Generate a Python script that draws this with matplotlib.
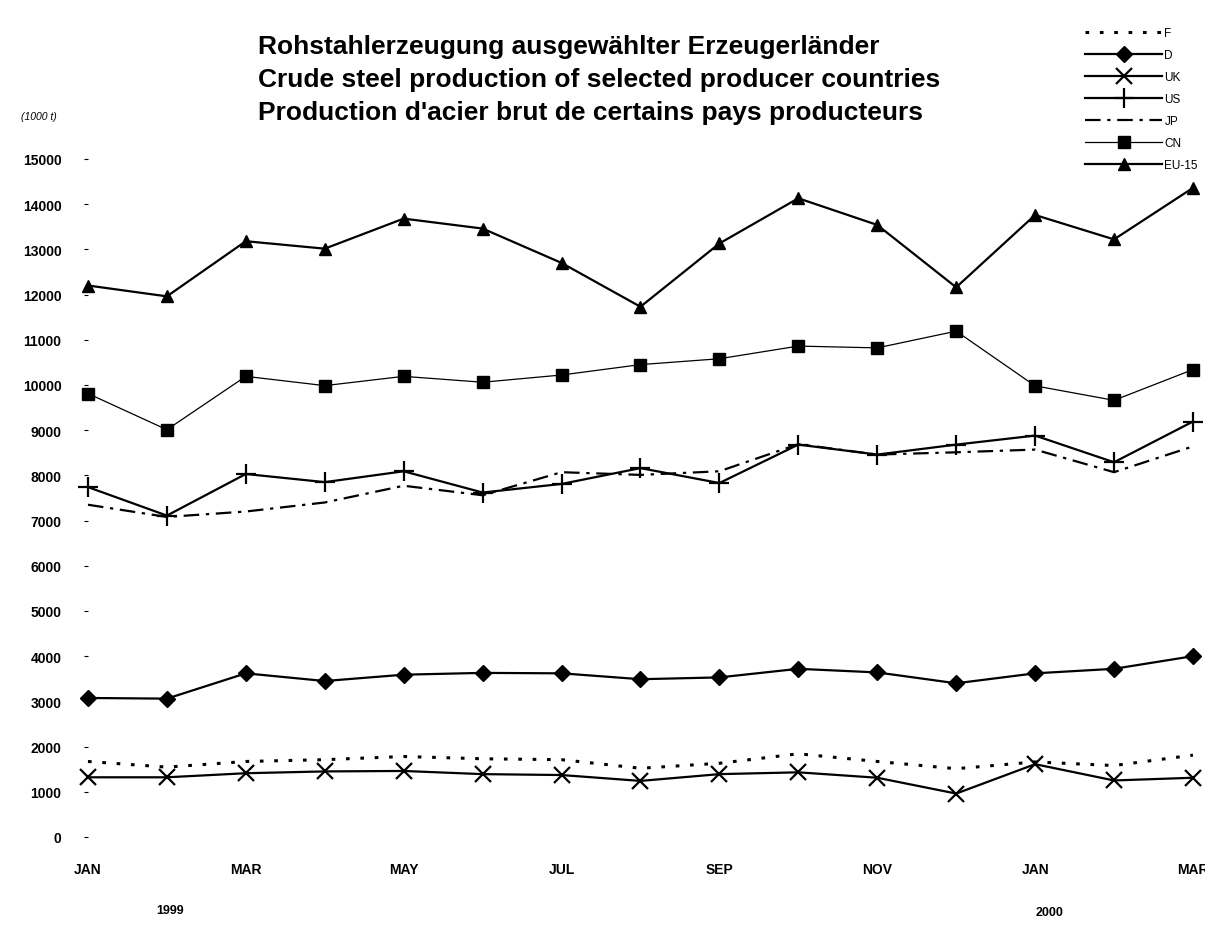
import numpy as np
import matplotlib
matplotlib.use('Agg')
import matplotlib.pyplot as plt

plt.rcParams['font.family'] = ['Liberation Sans Narrow', 'Liberation Sans', 'DejaVu Sans']

## dati (1000 t), gen 1999 - mar 2000
mesi = ['JAN', 'FEB', 'MAR', 'APR', 'MAY', 'JUN', 'JUL', 'AUG', 'SEP', 'OCT', 'NOV', 'DEC', 'JAN', 'FEB', 'MAR']
F  = [1670, 1545, 1670, 1710, 1780, 1730, 1710, 1520, 1630, 1840, 1670, 1510, 1660, 1580, 1810]
D  = [3075, 3060, 3620, 3450, 3590, 3630, 3620, 3490, 3530, 3720, 3640, 3400, 3620, 3720, 4000]
UK = [1320, 1320, 1410, 1450, 1460, 1390, 1370, 1240, 1390, 1430, 1310, 960, 1610, 1250, 1310]
US = [7740, 7110, 8030, 7850, 8090, 7620, 7810, 8160, 7830, 8680, 8460, 8680, 8880, 8290, 9190]
JP = [7350, 7080, 7200, 7400, 7770, 7560, 8070, 8010, 8090, 8690, 8460, 8510, 8570, 8070, 8640]
CN = [9810, 9010, 10190, 9985, 10190, 10060, 10220, 10450, 10580, 10860, 10820, 11190, 9980, 9660, 10340]
EU = [12200, 11960, 13180, 13015, 13680, 13460, 12700, 11730, 13130, 14130, 13540, 12160, 13760, 13220, 14360]

x = np.arange(len(mesi))

fig = plt.figure(figsize=(12.05, 9.37), dpi=100)
ax = fig.add_axes([0.073, 0.1057, 0.917, 0.7236])

kw = dict(color='black', clip_on=False)
ax.plot(x, F, linestyle=(0, (1.2, 3.5)), linewidth=2.2, label='F', **kw)
ax.plot(x, D, marker='D', markersize=8, linewidth=1.6, label='D', **kw)
ax.plot(x, UK, marker='x', markersize=12, markeredgewidth=1.6, linewidth=1.6, label='UK', **kw)
ax.plot(x, US, marker='+', markersize=15, markeredgewidth=1.6, linewidth=1.6, label='US', **kw)
ax.plot(x, JP, linestyle=(0, (7, 3, 1.5, 3)), linewidth=1.6, label='JP', **kw)
ax.plot(x, CN, marker='s', markersize=8, linewidth=0.9, label='CN', **kw)
ax.plot(x, EU, marker='^', markersize=8, linewidth=1.6, label='EU-15', **kw)

ax.set_xlim(0, 14)
ax.set_ylim(0, 15000)
ax.set_yticks(np.arange(0, 15001, 1000))
ax.set_yticklabels([str(v) for v in range(0, 15001, 1000)], fontweight='bold', fontsize=10)
ax.set_xticks(x[::2])
ax.set_xticklabels(mesi[::2], fontweight='bold', fontsize=10)
ax.tick_params(axis='y', length=3, width=0.8, pad=16)
ax.tick_params(axis='x', length=0, pad=18)
for s in ax.spines.values():
    s.set_visible(False)

# titolo
tx = 0.214
fig.text(tx, 0.950, 'Rohstahlerzeugung ausgewählter Erzeugerländer', ha='left', va='center',
         fontsize=19, fontweight='bold')
fig.text(tx, 0.915, 'Crude steel production of selected producer countries', ha='left', va='center',
         fontsize=19, fontweight='bold')
fig.text(tx, 0.879, "Production d'acier brut de certains pays producteurs", ha='left', va='center',
         fontsize=19, fontweight='bold')
fig.text(0.032, 0.875, '(1000 t)', ha='center', va='center', fontsize=7.5, style='italic')

# anni
fig.text(0.141, 0.028, '1999', ha='center', va='center', fontsize=9, fontweight='bold')
fig.text(0.871, 0.026, '2000', ha='center', va='center', fontsize=9, fontweight='bold')

leg = fig.legend(loc='upper right', bbox_to_anchor=(0.998, 0.975), frameon=False, handlelength=6.5,
                 handletextpad=0.2, labelspacing=0.85, fontsize=8.5, borderaxespad=0.0)

plt.savefig('out.png', dpi=100)
